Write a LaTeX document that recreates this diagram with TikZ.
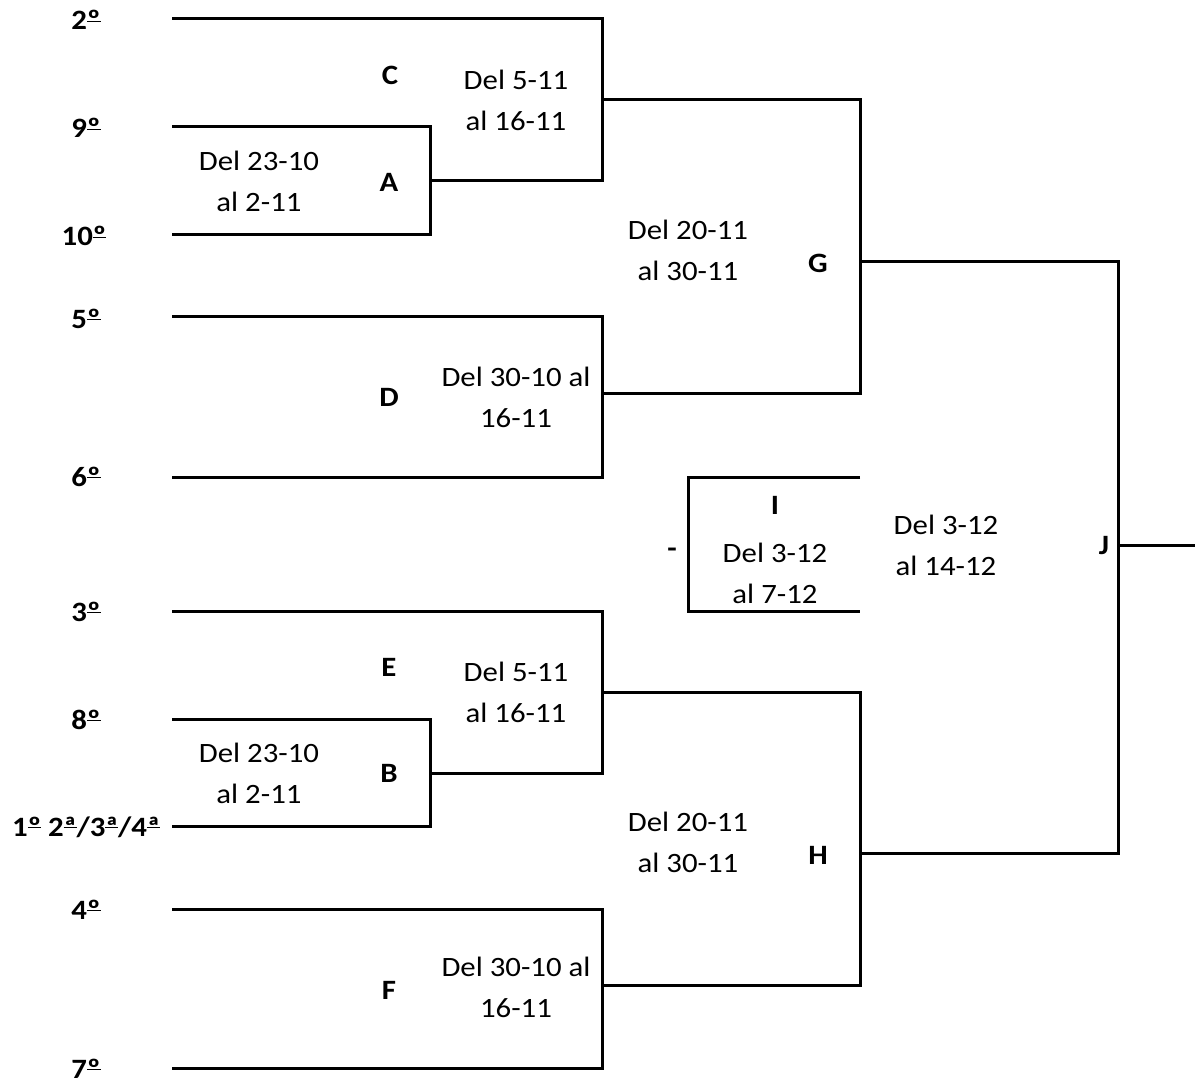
\documentclass[tikz,border=0pt]{standalone}
\usepackage{fontspec}
\setmainfont[FakeStretch=1.1]{Carlito}
\newcommand\ulord[1]{\setbox0\hbox{#1}\rlap{\raisebox{0.27em}{\rule{\wd0}{0.065em}}}\box0}
\newcommand\mo{\ulord{º}}
\newcommand\fa{\ulord{ª}}
\begin{document}
\begin{tikzpicture}[x=1pt,y=-1pt,
  br/.style={line width=3pt,line join=miter},
  lbl/.style={font=\fontsize{28}{41}\selectfont,align=center,inner sep=0pt},
  blbl/.style={font=\fontsize{28}{41}\selectfont\bfseries,inner sep=0pt},
  seed/.style={font=\fontsize{28}{41}\selectfont\bfseries,inner sep=0pt,anchor=base}]
\useasboundingbox (0,0) rectangle (1195,1078);
% start points
\coordinate (s2) at (172,19);
\coordinate (s9) at (172,127);
\coordinate (s10) at (172,235);
\coordinate (s5) at (172,317);
\coordinate (s6) at (172,477);
\coordinate (s3) at (172,611);
\coordinate (s8) at (172,719);
\coordinate (s1) at (172,826);
\coordinate (s4) at (172,909);
\coordinate (s7) at (172,1068);
% match points
\coordinate (a1) at (430,127); \coordinate (a2) at (430,235); \coordinate (ao) at (430,181);
\coordinate (c1) at (602,19);  \coordinate (c2) at (602,181); \coordinate (co) at (602,100);
\coordinate (d1) at (602,317); \coordinate (d2) at (602,477); \coordinate (do) at (602,393);
\coordinate (g1) at (860,100); \coordinate (g2) at (860,393); \coordinate (go) at (860,262);
\coordinate (b1) at (430,719); \coordinate (b2) at (430,826); \coordinate (bo) at (430,773);
\coordinate (e1) at (602,611); \coordinate (e2) at (602,773); \coordinate (eo) at (602,692);
\coordinate (f1) at (602,909); \coordinate (f2) at (602,1068); \coordinate (fo) at (602,985);
\coordinate (h1) at (860,692); \coordinate (h2) at (860,985); \coordinate (ho) at (860,853);
\coordinate (i1) at (688,477); \coordinate (i2) at (688,611);
\coordinate (it) at (860,477); \coordinate (ib) at (860,611);
\coordinate (j1) at (1118,262); \coordinate (j2) at (1118,853); \coordinate (jo) at (1118,545);
\coordinate (jend) at (1195,545);
% brackets
\draw[br] (s9) -- (a1) -- (a2) -- (s10);
\draw[br] (s2) -- (c1) -- (c2) -- (ao);
\draw[br] (s5) -- (d1) -- (d2) -- (s6);
\draw[br] (co) -- (g1) -- (g2) -- (do);
\draw[br] (s8) -- (b1) -- (b2) -- (s1);
\draw[br] (s3) -- (e1) -- (e2) -- (bo);
\draw[br] (s4) -- (f1) -- (f2) -- (s7);
\draw[br] (eo) -- (h1) -- (h2) -- (fo);
\draw[br] (it) -- (i1) -- (i2) -- (ib);
\draw[br] (go) -- (j1) -- (j2) -- (ho);
\draw[br] (jo) -- (jend);
% seeds
\node[seed] (n2) at (86,30) {2\mo};
\node[seed] (n9) at (86,138) {9\mo};
\node[seed] (n10) at (84,246) {10\mo};
\node[seed] (n5) at (86,328) {5\mo};
\node[seed] (n6) at (86,486) {6\mo};
\node[seed] (n3) at (86,621) {3\mo};
\node[seed] (n8) at (86,729) {8\mo};
\node[seed] (n1) at (86,836) {1\mo{} 2\fa/3\fa/4\fa};
\node[seed] (n4) at (86,919) {4\mo};
\node[seed] (n7) at (86,1078) {7\mo};
% match letters
\node[blbl] (lC) at (390,75) {C};
\node[blbl] (lA) at (389,182) {A};
\node[blbl] (lD) at (389,397) {D};
\node[blbl] (lE) at (389,667) {E};
\node[blbl] (lB) at (389,773) {B};
\node[blbl] (lF) at (389,990) {F};
\node[blbl] (lG) at (818,263) {G};
\node[blbl] (lH) at (818,855) {H};
\node[blbl] (lI) at (775,505) {I};
\node[blbl] (lJ) at (1104,546) {J};
\node[blbl] (dash) at (672,553) {-};
% dates
\node[lbl] (tC) at (516,100) {Del 5-11\\al 16-11};
\node[lbl] (tE) at (516,692) {Del 5-11\\al 16-11};
\node[lbl] (tA) at (259,181) {Del 23-10\\al 2-11};
\node[lbl] (tB) at (259,773) {Del 23-10\\al 2-11};
\node[lbl] (tG) at (688,250) {Del 20-11\\al 30-11};
\node[lbl] (tH) at (688,842) {Del 20-11\\al 30-11};
\node[lbl] (tD) at (516,397) {Del 30-10 al\\16-11};
\node[lbl] (tF) at (516,987) {Del 30-10 al\\16-11};
\node[lbl] (tI) at (775,573) {Del 3-12\\al 7-12};
\node[lbl] (tJ) at (946,545) {Del 3-12\\al 14-12};
\end{tikzpicture}
\end{document}
